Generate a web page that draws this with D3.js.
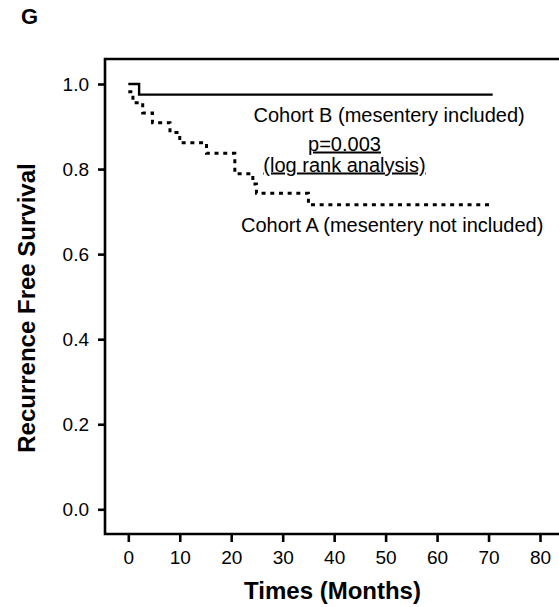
<!DOCTYPE html>
<html>
<head>
<meta charset="utf-8">
<script src="https://cdn.jsdelivr.net/npm/d3@7"></script>
<style>
  body { margin: 0; background: #fff; }
  text { font-family: Arial, "Liberation Sans", Helvetica, sans-serif; fill: #000; }
</style>
</head>
<body>
<script>
// Kaplan-Meier style step data
const cohortBTimes = [0, 2.1, 70.8];
const cohortBSurv = [1.0, 0.975, 0.975];

const cohortATimes = [0, 0.9, 2.8, 4.7, 8.1, 10, 15.2, 20.7, 24.2, 24.9, 35, 70.8];
const cohortASurv = [0.982, 0.956, 0.932, 0.909, 0.886, 0.862, 0.837, 0.789, 0.765, 0.743, 0.716, 0.716];

const xTicks = [0, 10, 20, 30, 40, 50, 60, 70, 80];
const yTicks = [0, 0.2, 0.4, 0.6, 0.8, 1.0];

const width = 559, height = 607;

let svg = d3.select("body")
    .append("svg")
    .attr("width", width)
    .attr("height", height);

let x = d3.scaleLinear().domain([0, 80]).range([128.3, 540]);
let y = d3.scaleLinear().domain([0, 1]).range([509.3, 84]);

// panel letter
svg.append("text")
    .attr("x", 21)
    .attr("y", 24)
    .style("font-size", "22px")
    .style("font-weight", "bold")
    .text("G");

// frame (right side runs off the picture)
svg.append("path")
    .attr("d", "M" + (width + 10) + ",59H105V534H" + (width + 10))
    .style("fill", "none")
    .style("stroke", "#000")
    .style("stroke-width", 2.6);

// axes
let yAxis = d3.axisLeft(y)
    .tickValues(yTicks)
    .tickFormat(d3.format(".1f"))
    .tickSize(7)
    .tickPadding(9);

let gy = svg.append("g")
    .attr("transform", "translate(105,0)")
    .call(yAxis);

let xAxis = d3.axisBottom(x)
    .tickValues(xTicks)
    .tickSize(8)
    .tickPadding(9);

let gx = svg.append("g")
    .attr("transform", "translate(0,534)")
    .call(xAxis);

[gx, gy].forEach(g => {
    g.select(".domain").remove();
    g.selectAll(".tick line").style("stroke", "#000").style("stroke-width", 2.6);
    g.selectAll(".tick text")
        .style("font-size", "19px")
        .style("font-family", "Arial, 'Liberation Sans', Helvetica, sans-serif")
        .style("fill", "#000");
});

// axis titles
svg.append("text")
    .attr("x", 332.5)
    .attr("y", 599)
    .attr("text-anchor", "middle")
    .style("font-size", "24px")
    .style("font-weight", "bold")
    .text("Times (Months)");

svg.append("text")
    .attr("transform", "translate(35,308) rotate(-90)")
    .attr("text-anchor", "middle")
    .style("font-size", "24px")
    .style("font-weight", "bold")
    .text("Recurrence Free Survival");

// survival curves
let step = d3.line()
    .x(d => x(d[0]))
    .y(d => y(d[1]))
    .curve(d3.curveStepAfter);

svg.append("path")
    .datum(d3.zip(cohortATimes, cohortASurv))
    .attr("d", step)
    .style("fill", "none")
    .style("stroke", "#000")
    .style("stroke-width", 3)
    .style("stroke-dasharray", "4,4.7");

svg.append("path")
    .datum(d3.zip(cohortBTimes, cohortBSurv))
    .attr("d", step)
    .style("fill", "none")
    .style("stroke", "#000")
    .style("stroke-width", 2.4);

// annotations
svg.append("text")
    .attr("x", 253.5)
    .attr("y", 121.5)
    .style("font-size", "20px")
    .text("Cohort B (mesentery included)");

svg.append("text")
    .attr("x", 344.5)
    .attr("y", 150.5)
    .attr("text-anchor", "middle")
    .style("font-size", "20px")
    .style("text-decoration", "underline")
    .text("p=0.003");

svg.append("text")
    .attr("x", 344.5)
    .attr("y", 171.5)
    .attr("text-anchor", "middle")
    .style("font-size", "20px")
    .style("text-decoration", "underline")
    .text("(log rank analysis)");

svg.append("text")
    .attr("x", 241)
    .attr("y", 231.5)
    .style("font-size", "20px")
    .text("Cohort A (mesentery not included)");
</script>
</body>
</html>
